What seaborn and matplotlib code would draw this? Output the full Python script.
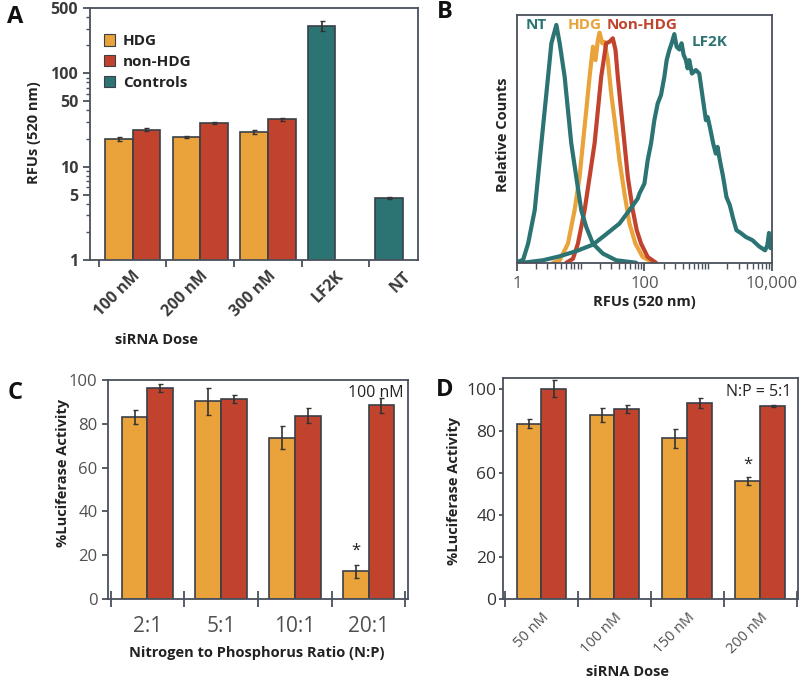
import numpy as np
import pandas as pd
import matplotlib
matplotlib.use('Agg')
import matplotlib.pyplot as plt
from matplotlib.patches import Patch
from matplotlib.ticker import FixedLocator, LogLocator, NullFormatter
import seaborn as sns

# ---- panel A: RFUs by siRNA dose (log scale)
doses_a = ['100 nM', '200 nM', '300 nM', 'LF2K', 'NT']
hdg_a = [19.8, 20.7, 23.4]
hdg_a_err = [0.8, 0.6, 1.0]
nonhdg_a = [24.7, 29.3, 32.0]
nonhdg_a_err = [0.9, 0.9, 1.3]
ctrl_a = [320, 4.6]
ctrl_a_err = [40, 0.1]

# ---- panel B: flow histograms (x in log10 RFU, y relative counts)
nt_x = [0.0, 0.099, 0.177, 0.281, 0.385, 0.49, 0.542, 0.62, 0.672, 0.75, 0.802, 0.854,
        0.932, 1.01, 1.089, 1.193, 1.349, 1.557, 1.87]
nt_y = [0.003, 0.013, 0.078, 0.213, 0.482, 0.751, 0.886, 0.96, 0.886, 0.751, 0.616, 0.482,
        0.347, 0.213, 0.145, 0.078, 0.038, 0.011, 0.001]
hdg_x = [0.568, 0.672, 0.802, 0.906, 0.984, 1.036, 1.089, 1.141, 1.193, 1.234, 1.271, 1.297,
         1.339, 1.375, 1.427, 1.479, 1.547, 1.609, 1.688, 1.766, 1.859, 1.974, 2.13]
hdg_y = [0.001, 0.011, 0.078, 0.213, 0.347, 0.482, 0.616, 0.751, 0.872, 0.818, 0.899, 0.929,
         0.886, 0.892, 0.818, 0.684, 0.549, 0.415, 0.28, 0.159, 0.078, 0.024, 0.004]
non_x = [0.776, 0.88, 0.958, 1.063, 1.141, 1.219, 1.271, 1.323, 1.401, 1.453, 1.505, 1.547,
         1.583, 1.635, 1.688, 1.74, 1.818, 1.88, 1.948, 2.052, 2.182]
non_y = [0.001, 0.017, 0.078, 0.213, 0.347, 0.482, 0.616, 0.751, 0.886, 0.892, 0.906, 0.859,
         0.751, 0.616, 0.482, 0.347, 0.213, 0.132, 0.078, 0.024, 0.001]
lf2k_x = [0.099, 0.411, 0.672, 0.932, 1.193, 1.401, 1.609, 1.766, 1.896, 1.922, 2.0, 2.052,
          2.104, 2.156, 2.208, 2.26, 2.313, 2.349, 2.391, 2.427, 2.469, 2.505, 2.547, 2.583,
          2.615, 2.651, 2.677, 2.703, 2.745, 2.807, 2.86, 2.912, 2.964, 2.99, 3.026, 3.078,
          3.12, 3.146, 3.182, 3.234, 3.286, 3.339, 3.391, 3.443, 3.51, 3.589, 3.693, 3.797,
          3.891, 3.927, 3.953, 3.975, 4.0]
lf2k_y = [0.001, 0.011, 0.027, 0.048, 0.074, 0.116, 0.159, 0.213, 0.26, 0.28, 0.32, 0.415,
          0.482, 0.576, 0.643, 0.677, 0.751, 0.818, 0.859, 0.886, 0.923, 0.872, 0.861, 0.886,
          0.839, 0.818, 0.785, 0.818, 0.764, 0.778, 0.764, 0.67, 0.576, 0.589, 0.549, 0.482,
          0.441, 0.468, 0.415, 0.347, 0.266, 0.233, 0.179, 0.132, 0.121, 0.105, 0.092, 0.067,
          0.051, 0.071, 0.121, 0.06, 0.1]

# ---- panel C: N:P ratio at 100 nM
ratios_c = ['2:1', '5:1', '10:1', '20:1']
hdg_c = [83.0, 90.2, 73.7, 12.7]
hdg_c_err = [3.3, 6.0, 5.3, 3.0]
nonhdg_c = [96.3, 91.3, 83.7, 88.5]
nonhdg_c_err = [2.0, 2.0, 3.4, 3.5]

# ---- panel D: siRNA dose at N:P 5:1
doses_d = ['50 nM', '100 nM', '150 nM', '200 nM']
hdg_d = [83.3, 87.5, 76.3, 56.0]
hdg_d_err = [2.0, 3.2, 4.4, 2.0]
nonhdg_d = [100.0, 90.2, 93.0, 91.7]
nonhdg_d_err = [4.2, 2.0, 2.4, 0.5]

ORANGE = '#E9A33A'
RED = '#C1432E'
TEAL = '#2B7473'
EDGE = '#3a3f48'
SPINE = '#4a505c'

sns.set_style('ticks')
plt.rcParams['font.family'] = ['Open Sans', 'DejaVu Sans']


def style_spines(ax):
    for s in ax.spines.values():
        s.set_visible(True)
        s.set_color(SPINE)
        s.set_linewidth(1.3)


def bar_panel(ax, cats, hdg, hdg_err, non, non_err, width):
    df = pd.DataFrame({
        'cat': cats[:len(hdg)] + cats[:len(non)],
        'grp': ['HDG'] * len(hdg) + ['non-HDG'] * len(non),
        'val': hdg + non,
        'err': hdg_err + non_err,
    })
    sns.barplot(data=df, x='cat', y='val', hue='grp', order=cats,
                hue_order=['HDG', 'non-HDG'], palette=[ORANGE, RED], saturation=1,
                width=width, edgecolor=EDGE, linewidth=1.2, errorbar=None,
                legend=False, ax=ax)
    return df


def add_errors(ax, df, cats, containers):
    for grp, cont in zip(['HDG', 'non-HDG'], containers):
        for p in cont:
            xc = p.get_x() + p.get_width() / 2
            cat = cats[int(round(xc))]
            row = df[(df['cat'] == cat) & (df['grp'] == grp)]
            if len(row) == 0:
                continue
            ax.errorbar(xc, p.get_height(), yerr=row['err'].iloc[0], fmt='none',
                        ecolor='#333333', elinewidth=1.2, capsize=1.8, capthick=1.0,
                        zorder=5)


def boundary_ticks(ax, n, direction, length):
    ax.xaxis.set_minor_locator(FixedLocator(np.arange(n + 1) - 0.5))
    ax.tick_params(axis='x', which='major', length=0)
    ax.tick_params(axis='x', which='minor', direction=direction, length=length,
                   width=1.3, color=SPINE)


fig = plt.figure(figsize=(8, 6.82), dpi=100)

# ================= A
axA = fig.add_axes([0.1125, 0.6188, 0.41, 0.3695])
dfA = pd.DataFrame({
    'cat': doses_a[:3] + doses_a[:3] + doses_a[3:],
    'grp': ['HDG'] * 3 + ['non-HDG'] * 3 + ['HDG'] * 2,
    'val': hdg_a + nonhdg_a + ctrl_a,
    'err': hdg_a_err + nonhdg_a_err + ctrl_a_err,
})
sns.barplot(data=dfA, x='cat', y='val', hue='grp', order=doses_a,
            hue_order=['HDG', 'non-HDG'], palette=[ORANGE, RED], saturation=1,
            width=0.82, edgecolor=EDGE, linewidth=1.2, errorbar=None, legend=False,
            ax=axA)
contA = list(axA.containers)
for p in contA[0]:
    if int(round(p.get_x() + p.get_width() / 2)) >= 3:
        p.set_facecolor(TEAL)
add_errors(axA, dfA, doses_a, contA)
axA.set_yscale('log')
axA.set_ylim(1, 500)
axA.yaxis.set_major_locator(FixedLocator([1, 5, 10, 50, 100, 500]))
axA.yaxis.set_minor_locator(LogLocator(base=10, subs=np.arange(2, 10), numticks=20))
axA.yaxis.set_minor_formatter(NullFormatter())
axA.set_yticklabels(['1', '5', '10', '50', '100', '500'])
axA.tick_params(axis='y', which='major', length=5, width=1.3, color=SPINE,
                labelsize=11.5, labelcolor='#3a3a3a')
axA.tick_params(axis='y', which='minor', length=3, width=1.0, color=SPINE)
for t in axA.get_yticklabels():
    t.set_fontweight('bold')
boundary_ticks(axA, 5, 'out', 5)
axA.set_xticks(range(5))
axA.set_xticklabels(doses_a, rotation=45, ha='right', rotation_mode='anchor',
                    fontsize=11.5, fontweight='bold', color='#3a3a3a')
axA.tick_params(axis='x', which='major', pad=6)
axA.set_xlabel('siRNA Dose', fontsize=10.5, fontweight='bold', color='#222')
axA.set_ylabel('RFUs (520 nm)', fontsize=10.5, fontweight='bold', color='#222')
axA.xaxis.set_label_coords(0.204, -0.29)
axA.yaxis.set_label_coords(-0.15, 0.506)
style_spines(axA)
handles = [Patch(facecolor=c, edgecolor=EDGE, linewidth=0.8) for c in (ORANGE, RED, TEAL)]
axA.legend(handles, ['HDG', 'non-HDG', 'Controls'], loc='upper left',
           bbox_to_anchor=(0.0, 0.95), frameon=False, handlelength=0.75,
           handleheight=0.75, handletextpad=0.5, labelspacing=0.45,
           prop={'size': 11, 'weight': 'bold'}, labelcolor='#222')

# ================= B
axB = fig.add_axes([0.646, 0.6144, 0.319, 0.3636])
curves = [(hdg_x, hdg_y, ORANGE), (non_x, non_y, RED),
          (nt_x, nt_y, TEAL), (lf2k_x, lf2k_y, TEAL)]
for lx, cy, col in curves:
    d = pd.DataFrame({'rfu': 10 ** np.array(lx), 'counts': cy})
    sns.lineplot(data=d, x='rfu', y='counts', color=col, linewidth=3.0,
                 sort=False, estimator=None, ax=axB, solid_joinstyle='round')
axB.set_xscale('log')
axB.set_xlim(1, 1e4)
axB.set_ylim(0, 1.0)
axB.xaxis.set_major_locator(FixedLocator([1, 100, 10000]))
axB.set_xticklabels(['1', '100', '10,000'])
axB.xaxis.set_minor_locator(LogLocator(base=10, subs=np.arange(1, 10), numticks=20))
axB.xaxis.set_minor_formatter(NullFormatter())
axB.tick_params(axis='x', which='major', length=6, width=1.3, color=SPINE,
                labelsize=12, labelcolor='#555')
axB.tick_params(axis='x', which='minor', length=4, width=1.0, color=SPINE)
axB.set_yticks([])
axB.set_xlabel('RFUs (520 nm)', fontsize=10.5, fontweight='bold', color='#222', labelpad=2)
axB.set_ylabel('Relative Counts', fontsize=10.5, fontweight='bold', color='#222')
axB.yaxis.set_label_coords(-0.025, 0.516)
style_spines(axB)
txt_kw = dict(fontsize=11, fontweight='bold', ha='center', va='center')
axB.text(10 ** 0.31, 0.96, 'NT', color=TEAL, **txt_kw)
axB.text(10 ** 1.06, 0.96, 'HDG', color=ORANGE, **txt_kw)
axB.text(10 ** 1.97, 0.96, 'Non-HDG', color=RED, **txt_kw)
axB.text(10 ** 3.02, 0.89, 'LF2K', color=TEAL, **txt_kw)

# ================= C
axC = fig.add_axes([0.135, 0.1217, 0.375, 0.3211])
dfC = bar_panel(axC, ratios_c, hdg_c, hdg_c_err, nonhdg_c, nonhdg_c_err, 0.7)
contC = list(axC.containers)
add_errors(axC, dfC, ratios_c, contC)
axC.set_ylim(0, 100)
axC.set_yticks(range(0, 101, 20))
axC.tick_params(axis='y', length=4, width=1.3, color=SPINE, labelsize=12,
                labelcolor='#505050')
boundary_ticks(axC, 4, 'inout', 12)
axC.tick_params(axis='x', which='major', labelsize=15, labelcolor='#505050', pad=12)
axC.set_xlabel('Nitrogen to Phosphorus Ratio (N:P)', fontsize=10.5, fontweight='bold',
               color='#222')
axC.set_ylabel('%Luciferase Activity', fontsize=10.5, fontweight='bold', color='#222')
axC.xaxis.set_label_coords(0.497, -0.215)
axC.yaxis.set_label_coords(-0.127, 0.575)
axC.text(0.985, 0.975, '100 nM', transform=axC.transAxes, ha='right', va='top',
         fontsize=11.5, color='#222')
p = contC[0][3]
axC.text(p.get_x() + p.get_width() / 2, hdg_c[3] + hdg_c_err[3] + 2.5, '*',
         ha='center', va='bottom', fontsize=12, color='#222')
style_spines(axC)

# ================= D
axD = fig.add_axes([0.629, 0.1217, 0.369, 0.324])
dfD = bar_panel(axD, doses_d, hdg_d, hdg_d_err, nonhdg_d, nonhdg_d_err, 0.68)
contD = list(axD.containers)
add_errors(axD, dfD, doses_d, contD)
axD.set_ylim(0, 105)
axD.set_yticks(range(0, 101, 20))
axD.tick_params(axis='y', length=3, width=1.3, color=SPINE, labelsize=12.5,
                labelcolor='#333', pad=2)
boundary_ticks(axD, 4, 'inout', 12)
axD.set_xticks(range(4))
axD.set_xticklabels(doses_d, rotation=45, ha='right', rotation_mode='anchor',
                    fontsize=10.5, color='#505050')
axD.tick_params(axis='x', which='major', pad=8)
axD.set_xlabel('siRNA Dose', fontsize=10.5, fontweight='bold', color='#222')
axD.set_ylabel('%Luciferase Activity', fontsize=10.5, fontweight='bold', color='#222')
axD.xaxis.set_label_coords(0.42, -0.30)
axD.yaxis.set_label_coords(-0.143, 0.49)
axD.text(0.975, 0.975, 'N:P = 5:1', transform=axD.transAxes, ha='right', va='top',
         fontsize=11.5, color='#222')
p = contD[0][3]
axD.text(p.get_x() + p.get_width() / 2, hdg_d[3] + hdg_d_err[3] + 2.0, '*',
         ha='center', va='bottom', fontsize=12, color='#222')
style_spines(axD)

# panel letters
for lbl, x, y in [('A', 0.019, 0.975), ('B', 0.556, 0.982), ('C', 0.019, 0.424),
                  ('D', 0.556, 0.428)]:
    fig.text(x, y, lbl, fontsize=17, fontweight='bold', ha='center', va='center',
             color='#111')

fig.savefig('out.png', dpi=100)
